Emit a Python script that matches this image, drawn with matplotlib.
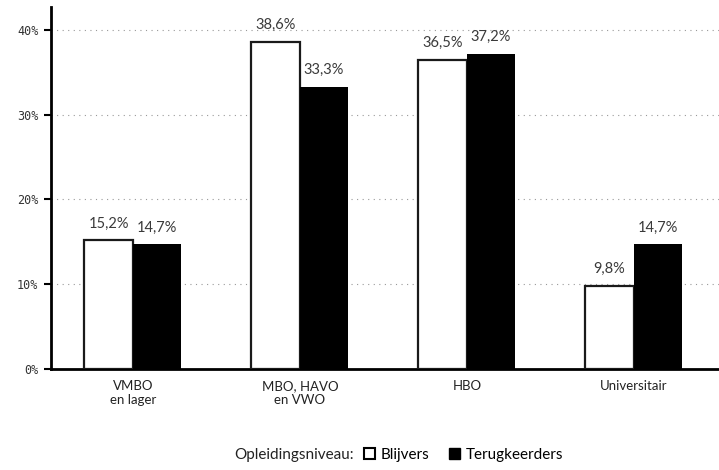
import matplotlib
matplotlib.use("Agg")
import matplotlib.pyplot as plt
from matplotlib.patches import Patch
import numpy as np

categories = ["VMBO\nen lager", "MBO, HAVO\nen VWO", "HBO", "Universitair"]
blijvers = [15.2, 38.6, 36.5, 9.8]
terugkeerders = [14.7, 33.3, 37.2, 14.7]
series_names = ["Blijvers", "Terugkeerders"]
legend_title = "Opleidingsniveau:"
yticks = [0, 10, 20, 30, 40]

plt.rcParams['font.family'] = ['Lato', 'DejaVu Sans']

fig = plt.figure(figsize=(7.19, 4.70), dpi=100)
ax = fig.add_axes([51/719, 101/470, 1 - 51/719, (369-7)/470])

x = np.arange(len(categories))
w = 0.29
b1 = ax.bar(x - w/2, blijvers, w, color='white', edgecolor='#1a1a1a', linewidth=1.6, zorder=3)
b2 = ax.bar(x + w/2, terugkeerders, w, color='black', edgecolor='black', linewidth=0, zorder=3)

def fmt(v):
    return f"{v:.1f}%".replace('.', ',')

for bars, vals in ((b1, blijvers), (b2, terugkeerders)):
    for r, v in zip(bars, vals):
        ax.annotate(fmt(v), (r.get_x() + r.get_width()/2, v), xytext=(0, 7),
                    textcoords='offset points', ha='center', va='bottom',
                    fontsize=10.5, color='#3a3a3a')

ax.set_xlim(-0.49, 3.51)
ax.set_ylim(0, 42.7)
ax.set_yticks(yticks)
ax.set_yticklabels([f"{t}%" for t in yticks])
for lab in ax.get_yticklabels():
    lab.set_fontfamily('DejaVu Sans Mono')
    lab.set_fontsize(8.5)
    lab.set_color('#333333')
ax.set_xticks(x)
ax.set_xticklabels(categories, fontsize=9.5, color='#222222', linespacing=1.15)
ax.tick_params(axis='x', length=0, pad=8)
ax.tick_params(axis='y', length=5, width=1.5, pad=4)
ax.yaxis.grid(True, linestyle=(0, (1, 4)), color='#999999', linewidth=0.8, zorder=0)
ax.set_axisbelow(True)
for s in ('top', 'right'):
    ax.spines[s].set_visible(False)
ax.spines['left'].set_linewidth(2)
ax.spines['bottom'].set_linewidth(2)

fig.text(354/719, 1 - 455/470, legend_title, ha='right', va='center', fontsize=11, color='#222222')
handles = [Patch(facecolor='white', edgecolor='black', linewidth=1.5),
           Patch(facecolor='black', edgecolor='black')]
fig.legend(handles, series_names, loc='center left', bbox_to_anchor=(364/719, 1 - 455/470),
           ncol=2, frameon=False, handlelength=0.7, handleheight=0.7,
           handletextpad=0.4, columnspacing=1.3, borderaxespad=0, borderpad=0,
           prop={'size': 11})

fig.savefig("out.png", dpi=100)
